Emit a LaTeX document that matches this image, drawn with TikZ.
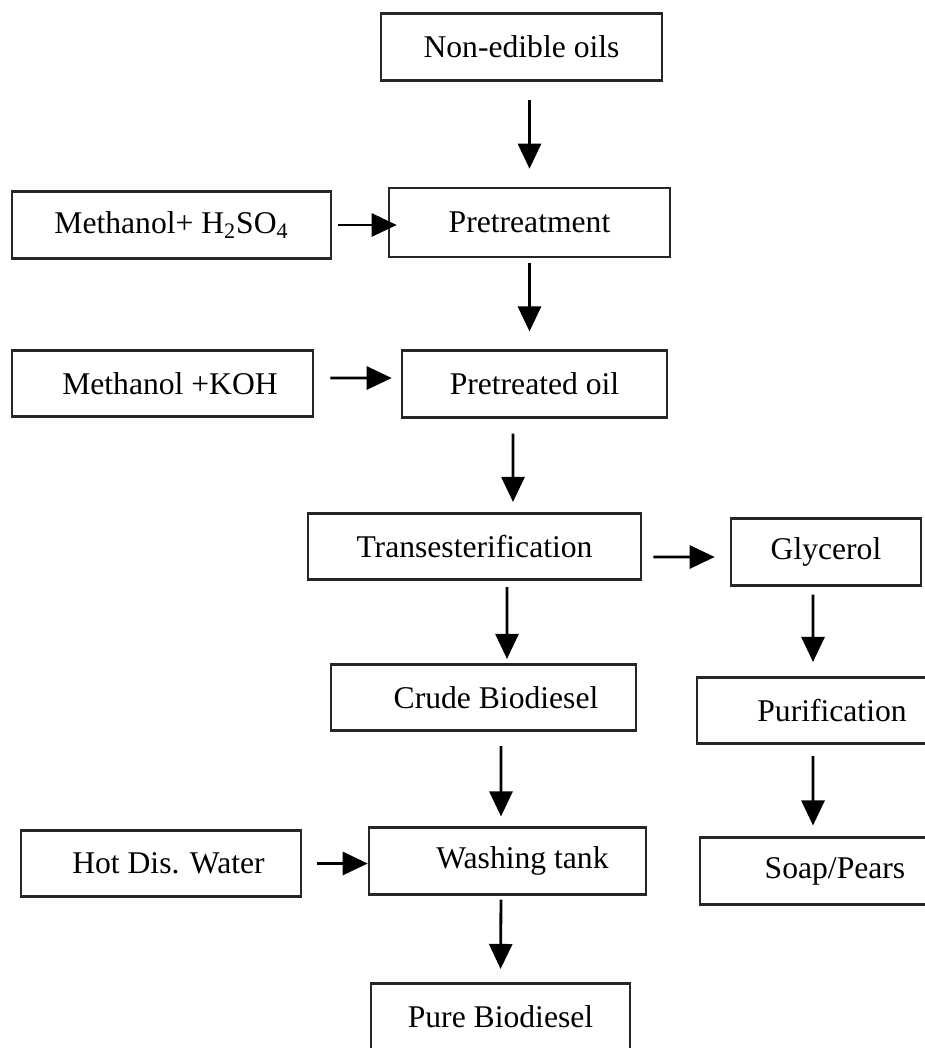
\documentclass[tikz,border=0pt]{standalone}
\usepackage{fontspec}
\setmainfont{Liberation Serif}
\usepackage{tikz}
\usetikzlibrary{arrows.meta, positioning, calc}

\begin{document}
\begin{tikzpicture}[
    x=0.02cm, y=-0.02cm,
    box/.style={draw=black!85, line width=1.5pt, rectangle, inner sep=0pt, minimum height=1.33cm, font=\fontsize{18}{21}\selectfont},
    flow/.style={draw=black, line width=1.6pt, -{Triangle[length=0.5cm, width=0.46cm]}}
]
    \useasboundingbox (0,0) rectangle (925,1048);

    % Main line
    \node[box, minimum width=5.62cm] (noned) at (521.5,47) {Non-edible oils};
    \node[box, minimum width=5.62cm, minimum height=1.38cm] (pretr) at (529.5,222.5) {Pretreatment};
    \node[box, minimum width=5.30cm] (pretoil) at (534.5,384) {Pretreated oil};
    \node[box, minimum width=6.66cm] (trans) at (474.5,546.5) {Transesterification};
    \node[box, minimum width=6.10cm] (crude) at (483.5,697.5) {\hspace{0.5cm}Crude Biodiesel};
    \node[box, minimum width=5.54cm] (wash) at (507.5,861) {\hspace{0.6cm}Washing tank};
    \node[box, minimum width=5.18cm] (pure) at (500.5,1016.5) {Pure Biodiesel};

    % Inputs
    \node[box, minimum width=6.38cm] (methsulf) at (171.5,225) {Methanol+ H\textsubscript{2}SO\textsubscript{4}};
    \node[box, minimum width=6.02cm] (methkoh) at (162.5,383.5) {\hspace{0.3cm}Methanol +KOH};
    \node[box, minimum width=5.60cm] (hotw) at (161,863.5) {\hspace{0.3cm}Hot Dis. Water};

    % Glycerol branch
    \node[box, minimum width=3.80cm] (glyc) at (826,552) {Glycerol};
    \node[box, minimum width=5.40cm] (purif) at (832,710.5) {Purification};
    \node[box, minimum width=5.40cm] (soap) at (835,871) {Soap/Pears};

    % Vertical arrows
    \draw[flow, shorten <=0.36cm, shorten >=0.36cm] (noned.south -| pretr.north) -- (pretr.north);
    \draw[flow, shorten <=0.1cm, shorten >=0.36cm] (pretr.south) -- (pretr.south |- pretoil.north);
    \draw[flow, shorten <=0.3cm, shorten >=0.2cm] ([xshift=-0.43cm]pretoil.south) -- ([xshift=0.77cm]trans.north);
    \draw[flow, shorten <=0.12cm, shorten >=0.08cm] ([xshift=0.65cm]trans.south) -- ([xshift=0.47cm]crude.north);
    \draw[flow, shorten <=0.28cm, shorten >=0.2cm] ([xshift=0.35cm]crude.south) -- ([xshift=-0.13cm]wash.north);
    \draw[flow, shorten <=0.08cm, shorten >=0.26cm] ([xshift=-0.13cm]wash.south) -- (pure.north);
    \draw[flow, shorten <=0.16cm, shorten >=0.28cm] ([xshift=-0.26cm]glyc.south) -- ([xshift=-0.38cm]purif.north);
    \draw[flow, shorten <=0.22cm, shorten >=0.22cm] ([xshift=-0.38cm]purif.south) -- ([xshift=-0.44cm]soap.north);

    % Horizontal arrows
    \draw[flow, shorten <=0.12cm, shorten >=-0.18cm] (methsulf.east) -- (methsulf.east -| pretr.west);
    \draw[flow, shorten <=0.32cm, shorten >=0.18cm] ([yshift=0.11cm]methkoh.east) -- ([yshift=0.12cm]pretoil.west);
    \draw[flow, shorten <=0.22cm, shorten >=0.3cm] ([yshift=-0.21cm]trans.east) -- ([yshift=-0.1cm]glyc.west);
    \draw[flow, shorten <=0.3cm, shorten >=0cm] (hotw.east) -- (hotw.east -| wash.west);
\end{tikzpicture}
\end{document}
